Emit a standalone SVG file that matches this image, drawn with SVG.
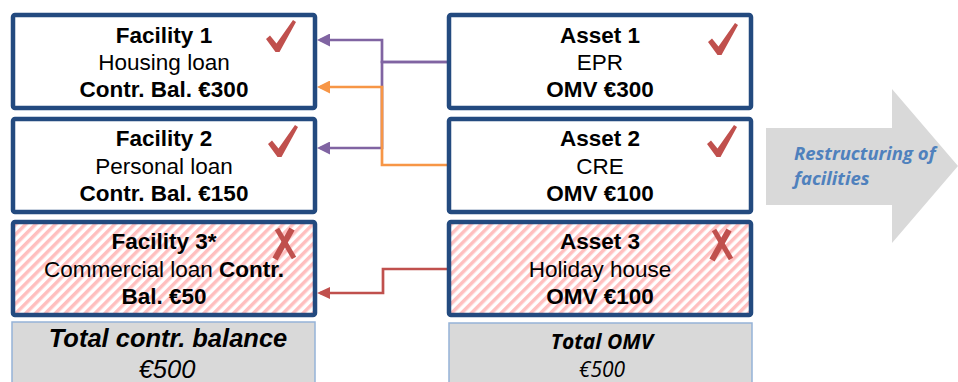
<svg xmlns="http://www.w3.org/2000/svg" width="958" height="382" viewBox="0 0 958 382">
<style>
.box{stroke:#234a7f;stroke-width:4.5;fill:#ffffff}
.hatch{stroke:#234a7f;stroke-width:4.5;fill:url(#stripes)}
.tot{fill:#d9d9d9;stroke:#95b3d7;stroke-width:1.5}
.t{font-family:"Liberation Sans",Arial,sans-serif;font-size:22.5px;fill:#000;text-anchor:middle}
.b{font-weight:bold}
.mark{fill:#c0504d}
.xm{stroke:#c0504d;stroke-width:5;fill:none}
.c{fill:none;stroke-width:2.7}
.pu{stroke:#8064a2}
.or{stroke:#f79646}
.rd{stroke:#c0504d}
.cal{font-family:"Open Sans","Liberation Sans",sans-serif;font-style:italic}
</style>
<defs>
<pattern id="stripes" patternUnits="userSpaceOnUse" width="7" height="7" patternTransform="rotate(45)">
<rect width="7" height="7" fill="#ffffff"/>
<rect width="3.5" height="7" fill="#ffbfbf"/>
</pattern>
<marker id="aPu" markerUnits="userSpaceOnUse" markerWidth="13" markerHeight="13" refX="10" refY="6.5" orient="auto" viewBox="0 0 13 13"><path d="M0,0 L13,6.5 L0,13 Z" fill="#8064a2"/></marker>
<marker id="aOr" markerUnits="userSpaceOnUse" markerWidth="13" markerHeight="13" refX="10" refY="6.5" orient="auto" viewBox="0 0 13 13"><path d="M0,0 L13,6.5 L0,13 Z" fill="#f79646"/></marker>
<marker id="aRd" markerUnits="userSpaceOnUse" markerWidth="13" markerHeight="12" refX="10" refY="6" orient="auto" viewBox="0 0 13 12"><path d="M0,0 L13,6 L0,12 Z" fill="#c0504d"/></marker>
<path id="check" d="M0,19 L4,15.5 L10.5,23.5 L27,0 L30,2 L13.5,32 L9.5,32 Z"/>
<g id="xmark"><path d="M4,1 L21,30"/><path d="M19,1 L2,31" stroke-width="6"/></g>
</defs>

<g id="connectors">
<path class="c pu" d="M447,62 H382 V40 H320" marker-end="url(#aPu)"/>
<path class="c pu" d="M447,62 H382 V148 H320" marker-end="url(#aPu)"/>
<path class="c or" d="M447,165 H382 V87 H320" marker-end="url(#aOr)"/>
<path class="c rd" d="M447,269 H383 V293 H320" marker-end="url(#aRd)"/>
</g>

<g id="facility1">
<rect class="box" x="13" y="15" width="302" height="93" rx="2"/>
<text class="t b" x="164" y="43">Facility 1</text>
<text class="t" x="164" y="70">Housing loan</text>
<text class="t b" x="164" y="97">Contr. Bal. €300</text>
<use href="#check" class="mark" x="266" y="20"/>
</g>

<g id="facility2">
<rect class="box" x="13" y="119" width="302" height="93" rx="2"/>
<text class="t b" x="164" y="146">Facility 2</text>
<text class="t" x="164" y="174">Personal loan</text>
<text class="t b" x="164" y="201">Contr. Bal. €150</text>
<use href="#check" class="mark" x="268" y="125"/>
</g>

<g id="facility3">
<rect class="hatch" x="13" y="222" width="302" height="93" rx="2"/>
<text class="t b" x="164" y="249">Facility 3*</text>
<text class="t" x="164" y="277">Commercial loan <tspan class="b">Contr.</tspan></text>
<text class="t b" x="164" y="304">Bal. €50</text>
<use href="#xmark" class="xm" x="273" y="228"/>
</g>

<g id="asset1">
<rect class="box" x="449" y="15" width="302" height="93" rx="2"/>
<text class="t b" x="600" y="43">Asset 1</text>
<text class="t" x="600" y="70">EPR</text>
<text class="t b" x="600" y="97">OMV €300</text>
<use href="#check" class="mark" x="708" y="23"/>
</g>

<g id="asset2">
<rect class="box" x="449" y="119" width="302" height="93" rx="2"/>
<text class="t b" x="600" y="146">Asset 2</text>
<text class="t" x="600" y="174">CRE</text>
<text class="t b" x="600" y="201">OMV €100</text>
<use href="#check" class="mark" x="707" y="125"/>
</g>

<g id="asset3">
<rect class="hatch" x="449" y="222" width="302" height="93" rx="2"/>
<text class="t b" x="600" y="249">Asset 3</text>
<text class="t" x="600" y="277">Holiday house</text>
<text class="t b" x="600" y="304">OMV €100</text>
<use href="#xmark" class="xm" x="710" y="229"/>
</g>

<g id="total-balance">
<rect class="tot" x="12" y="322" width="303" height="70"/>
<text class="t b" x="168" y="347" style="font-size:25.5px;font-style:italic">Total contr. balance</text>
<text class="t" x="167" y="378" style="font-size:25.5px;font-style:italic">€500</text>
</g>

<g id="total-omv">
<rect class="tot" x="449" y="323" width="303" height="70"/>
<text class="cal" x="602" y="349" text-anchor="middle" font-size="21" font-weight="bold" fill="#000">Total OMV</text>
<text class="cal" x="602" y="377" text-anchor="middle" font-size="21" fill="#000">€500</text>
</g>

<g id="restructuring">
<path d="M766,128 H892 V89 L958,166 L892,243 V205 H766 Z" fill="#d9d9d9"/>
<text class="cal" x="794" y="160" font-size="18.5" font-weight="bold" fill="#4f81bd">Restructuring of</text>
<text class="cal" x="794" y="185" font-size="18.5" font-weight="bold" fill="#4f81bd">facilities</text>
</g>
</svg>
